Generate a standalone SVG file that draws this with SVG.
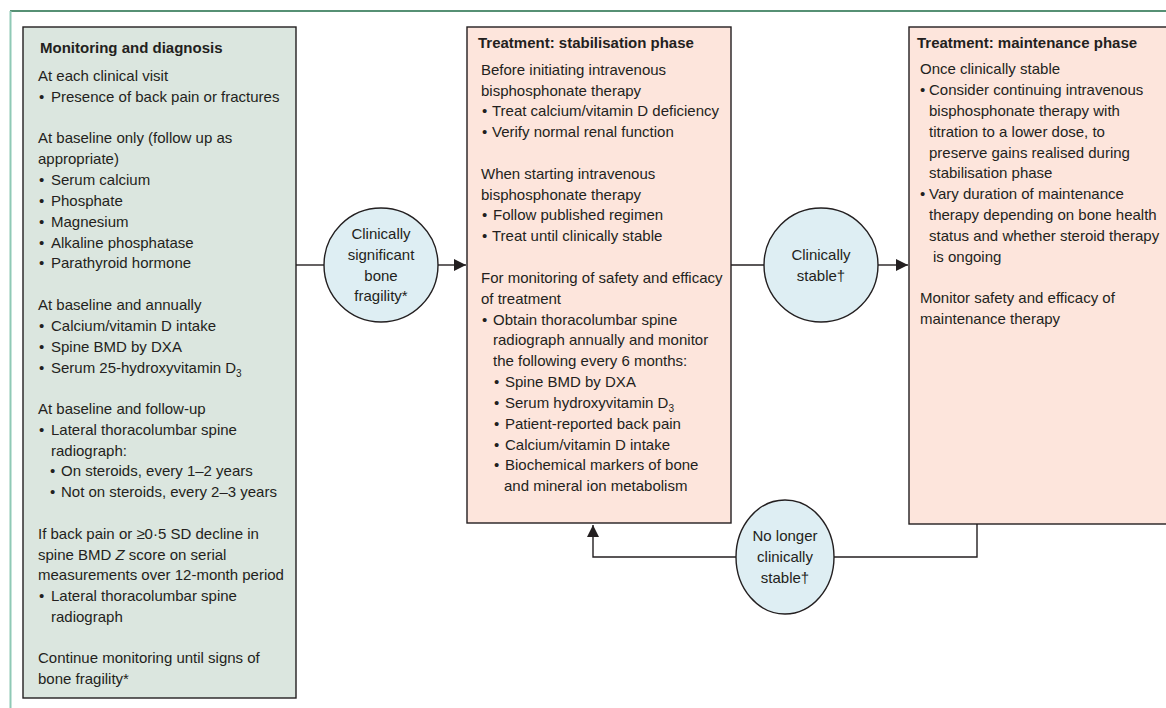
<svg xmlns="http://www.w3.org/2000/svg" width="1166" height="708" viewBox="0 0 1166 708">
<style>
.t{font-family:"Liberation Sans",Arial,sans-serif;font-size:15px;fill:#231f20}
.b{font-weight:bold}
.c{text-anchor:middle}
.sub{font-size:10px}
.box{stroke:#231f20;stroke-width:1.4}
.green{fill:#dbe6df}
.pink{fill:#fde5dc}
.circ{fill:#deeef3;stroke:#231f20;stroke-width:1.4}
.con{fill:none;stroke:#231f20;stroke-width:1.4}
</style>
<defs>
<marker id="arr" markerUnits="userSpaceOnUse" markerWidth="13" markerHeight="12" refX="12" refY="6" orient="auto">
<path d="M0,0 L12,6 L0,12 z" fill="#231f20"/>
</marker>
</defs>
<rect width="1166" height="708" fill="#ffffff"/>
<g id="frame">
<line x1="10" y1="11" x2="1166" y2="11" stroke="#1e6b46" stroke-width="1.4"/>
<line x1="10.5" y1="11" x2="10.5" y2="708" stroke="#8fc9b6" stroke-width="2"/>
</g>
<g id="connectors">
<line class="con" x1="296" y1="265" x2="324" y2="265"/>
<line class="con" x1="438" y1="265" x2="466" y2="265" marker-end="url(#arr)"/>
<line class="con" x1="731" y1="265" x2="764" y2="265"/>
<line class="con" x1="878" y1="265" x2="908" y2="265" marker-end="url(#arr)"/>
<polyline class="con" points="977,524 977,557 834,557"/>
<polyline class="con" points="736,557 593,557 593,525" marker-end="url(#arr)"/>
</g>
<g id="monitoring">
<rect class="box green" x="23" y="27" width="273" height="671"/>
<text class="t b" x="40" y="53">Monitoring and diagnosis</text>
<text class="t" x="38" y="81">At each clinical visit</text>
<text class="t" y="102"><tspan x="39">•</tspan><tspan x="51">Presence of back pain or fractures</tspan></text>
<text class="t" x="38" y="143">At baseline only (follow up as</text>
<text class="t" x="38" y="164">appropriate)</text>
<text class="t" y="185"><tspan x="39">•</tspan><tspan x="51">Serum calcium</tspan></text>
<text class="t" y="206"><tspan x="39">•</tspan><tspan x="51">Phosphate</tspan></text>
<text class="t" y="227"><tspan x="39">•</tspan><tspan x="51">Magnesium</tspan></text>
<text class="t" y="248"><tspan x="39">•</tspan><tspan x="51">Alkaline phosphatase</tspan></text>
<text class="t" y="268"><tspan x="39">•</tspan><tspan x="51">Parathyroid hormone</tspan></text>
<text class="t" x="38" y="310">At baseline and annually</text>
<text class="t" y="331"><tspan x="39">•</tspan><tspan x="51">Calcium/vitamin D intake</tspan></text>
<text class="t" y="352"><tspan x="39">•</tspan><tspan x="51">Spine BMD by DXA</tspan></text>
<text class="t" y="373"><tspan x="39">•</tspan><tspan x="51">Serum 25-hydroxyvitamin D</tspan><tspan class="sub" dy="4">3</tspan></text>
<text class="t" x="38" y="414">At baseline and follow-up</text>
<text class="t" y="435"><tspan x="39">•</tspan><tspan x="51">Lateral thoracolumbar spine</tspan></text>
<text class="t" x="51" y="456">radiograph:</text>
<text class="t" y="476"><tspan x="50">•</tspan><tspan x="61">On steroids, every 1–2 years</tspan></text>
<text class="t" y="497"><tspan x="50">•</tspan><tspan x="61">Not on steroids, every 2–3 years</tspan></text>
<text class="t" x="38" y="539">If back pain or ≥0·5 SD decline in</text>
<text class="t" x="38" y="560">spine BMD <tspan font-style="italic">Z</tspan> score on serial</text>
<text class="t" x="38" y="580">measurements over 12-month period</text>
<text class="t" y="601"><tspan x="39">•</tspan><tspan x="51">Lateral thoracolumbar spine</tspan></text>
<text class="t" x="51" y="622">radiograph</text>
<text class="t" x="38" y="663">Continue monitoring until signs of</text>
<text class="t" x="38" y="684">bone fragility*</text>
</g>
<g id="fragility">
<circle class="circ" cx="381" cy="265" r="57"/>
<text class="t c" x="381" y="239">Clinically</text>
<text class="t c" x="381" y="260">significant</text>
<text class="t c" x="381" y="281">bone</text>
<text class="t c" x="381" y="301">fragility*</text>
</g>
<g id="stabilisation">
<rect class="box pink" x="467" y="27" width="264" height="496"/>
<text class="t b" x="478" y="48">Treatment: stabilisation phase</text>
<text class="t" x="481" y="75">Before initiating intravenous</text>
<text class="t" x="481" y="96">bisphosphonate therapy</text>
<text class="t" y="116"><tspan x="482">•</tspan><tspan x="492">Treat calcium/vitamin D deficiency</tspan></text>
<text class="t" y="137"><tspan x="482">•</tspan><tspan x="492">Verify normal renal function</tspan></text>
<text class="t" x="481" y="179">When starting intravenous</text>
<text class="t" x="481" y="200">bisphosphonate therapy</text>
<text class="t" y="220"><tspan x="482">•</tspan><tspan x="493">Follow published regimen</tspan></text>
<text class="t" y="241"><tspan x="482">•</tspan><tspan x="492">Treat until clinically stable</tspan></text>
<text class="t" x="481" y="283">For monitoring of safety and efficacy</text>
<text class="t" x="481" y="304">of treatment</text>
<text class="t" y="325"><tspan x="482">•</tspan><tspan x="493">Obtain thoracolumbar spine</tspan></text>
<text class="t" x="493" y="345">radiograph annually and monitor</text>
<text class="t" x="493" y="366">the following every 6 months:</text>
<text class="t" y="387"><tspan x="494">•</tspan><tspan x="505">Spine BMD by DXA</tspan></text>
<text class="t" y="408"><tspan x="494">•</tspan><tspan x="505">Serum hydroxyvitamin D</tspan><tspan class="sub" dy="4">3</tspan></text>
<text class="t" y="429"><tspan x="494">•</tspan><tspan x="505">Patient-reported back pain</tspan></text>
<text class="t" y="450"><tspan x="494">•</tspan><tspan x="505">Calcium/vitamin D intake</tspan></text>
<text class="t" y="470"><tspan x="494">•</tspan><tspan x="505">Biochemical markers of bone</tspan></text>
<text class="t" x="504" y="491">and mineral ion metabolism</text>
</g>
<g id="stable">
<circle class="circ" cx="821" cy="265" r="57"/>
<text class="t c" x="821" y="260">Clinically</text>
<text class="t c" x="821" y="281">stable†</text>
</g>
<g id="maintenance">
<rect class="box pink" x="909" y="27" width="270" height="497"/>
<text class="t b" x="917" y="48">Treatment: maintenance phase</text>
<text class="t" x="920" y="74">Once clinically stable</text>
<text class="t" y="95"><tspan x="920">•</tspan><tspan x="929">Consider continuing intravenous</tspan></text>
<text class="t" x="929" y="116">bisphosphonate therapy with</text>
<text class="t" x="929" y="137">titration to a lower dose, to</text>
<text class="t" x="929" y="158">preserve gains realised during</text>
<text class="t" x="929" y="178">stabilisation phase</text>
<text class="t" y="199"><tspan x="920">•</tspan><tspan x="929">Vary duration of maintenance</tspan></text>
<text class="t" x="929" y="220">therapy depending on bone health</text>
<text class="t" x="929" y="241">status and whether steroid therapy</text>
<text class="t" x="933" y="262">is ongoing</text>
<text class="t" x="920" y="303">Monitor safety and efficacy of</text>
<text class="t" x="920" y="324">maintenance therapy</text>
</g>
<g id="unstable">
<ellipse class="circ" cx="785" cy="557" rx="49" ry="57"/>
<text class="t c" x="785" y="541">No longer</text>
<text class="t c" x="785" y="562">clinically</text>
<text class="t c" x="785" y="583">stable†</text>
</g>
</svg>
